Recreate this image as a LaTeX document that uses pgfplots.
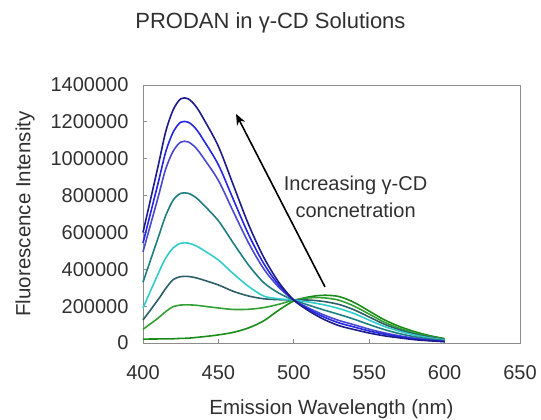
\documentclass[border=0pt]{standalone}
\usepackage{pgfplots}
\pgfplotsset{compat=1.18}
\usepackage{pgfplotstable}
\usepackage{fontspec}
\setmainfont{Liberation Sans}
\usetikzlibrary{arrows.meta}

\definecolor{cN}{HTML}{1C1C8A}
\definecolor{cB}{HTML}{2626E6}
\definecolor{cV}{HTML}{4848D0}
\definecolor{cT}{HTML}{1F7F80}
\definecolor{cC}{HTML}{33CCCC}
\definecolor{cS}{HTML}{2F5F66}
\definecolor{cG}{HTML}{33A033}
\definecolor{cG0}{HTML}{1A8C1A}
\definecolor{axisgray}{HTML}{8C8C8C}
\definecolor{txt}{HTML}{303030}

\pgfplotstableread{
x   N       B       V       T      C      S      G1     G0
400 600000  543000  495000  330000 190000 125000 74000  21000
410 959000  867000  790000  570000 375000 235000 135000 22000
415 1145000 1035000 943000  690000 460000 295000 170000 22000
420 1265000 1144000 1041000 775000 516000 344000 197000 23000
425 1325000 1198000 1090000 812000 541000 360000 206000 25000
430 1325000 1198000 1091000 812000 542000 361000 207000 26000
435 1285000 1163000 1059000 790000 528000 354000 205000 30000
440 1219000 1103000 1005000 751000 504000 342000 200000 34000
450 1067000 967000  882000  663000 450000 315000 190000 44000
460 855000  777000  711000  541000 375000 280000 182000 58000
470 643000  589000  543000  423000 307000 255000 183000 82000
480 466000  432000  403000  328000 255000 240000 192000 120000
490 330000  315000  303000  271000 240000 235000 210000 178000
500 233000  233000  233000  233000 233000 233000 233000 228000
510 174000  182000  189000  205000 222000 233000 245000 250000
520 128000  141000  152000  179000 207000 225000 245000 259000
530 94000   109000  122000  155000 187000 209000 232000 252000
540 73000   87000   99000   129000 160000 180000 200000 220000
550 54000   65000   75000   100000 124000 141000 157000 173000
560 39000   48000   55000   73000  90000  102000 113000 126000
570 28000   34000   39000   51000  64000  72000  80000  90000
580 18000   22000   26000   34000  43000  49000  54000  62000
590 12000   14000   16000   22000  28000  32000  35000  40000
600 7000    8000    10000   13000  17000  19000  21000  24000
}\spectra

\begin{document}
\begin{tikzpicture}
\begin{axis}[
  at={(143pt,77pt)}, anchor=south west,
  width=377pt, height=258pt, scale only axis,
  xmin=400, xmax=650, ymin=0, ymax=1400000,
  xtick={400,450,500,550,600,650},
  ytick={0,200000,400000,600000,800000,1000000,1200000,1400000},
  scaled y ticks=false, scaled x ticks=false,
  /pgf/number format/fixed,
  /pgf/number format/1000 sep={},
  /pgf/number format/assume math mode=true,
  xtick pos=bottom, ytick pos=left,
  tick align=inside, major tick length=4pt,
  tick style={color=axisgray, line width=0.8pt},
  axis line style={color=axisgray, line width=0.8pt},
  ticklabel style={font=\fontsize{20}{24}\selectfont, text=txt},
  yticklabel style={xshift=-11pt},
  xticklabel style={yshift=-19pt},
  xlabel={Emission Wavelength (nm)},
  ylabel={Fluorescence Intensity},
  label style={font=\fontsize{20.5}{24}\selectfont, text=txt},
  xlabel style={at={(axis description cs:0.5,-0.258)}, anchor=center},
  ylabel style={at={(axis description cs:-0.313,0.5)}, anchor=center, rotate=0},
  title={PRODAN in γ-CD Solutions},
  title style={at={(axis description cs:0.338,1.218)}, anchor=center, font=\fontsize{22}{26}\selectfont, text=txt},
  every axis plot/.append style={line width=1.6pt, smooth, no markers},
  clip=false,
]
\addplot[cG0] table[x=x,y=G0] {\spectra};
\addplot[cG]  table[x=x,y=G1] {\spectra};
\addplot[cS]  table[x=x,y=S]  {\spectra};
\addplot[cC]  table[x=x,y=C]  {\spectra};
\addplot[cT]  table[x=x,y=T]  {\spectra};
\addplot[cV]  table[x=x,y=V]  {\spectra};
\addplot[cB]  table[x=x,y=B]  {\spectra};
\addplot[cN]  table[x=x,y=N]  {\spectra};
\draw[line width=1.6pt, black, -{Stealth[length=11pt,width=9pt]}] (axis cs:520.7,304000) -- (axis cs:461.7,1243000);
\node[align=center, font=\fontsize{20}{27}\selectfont, text=txt] at (axis cs:541,795000) {Increasing γ-CD\\concnetration};
\end{axis}
\pgfresetboundingbox
\useasboundingbox (0,0) rectangle (541pt,420pt);
\end{tikzpicture}
\end{document}
